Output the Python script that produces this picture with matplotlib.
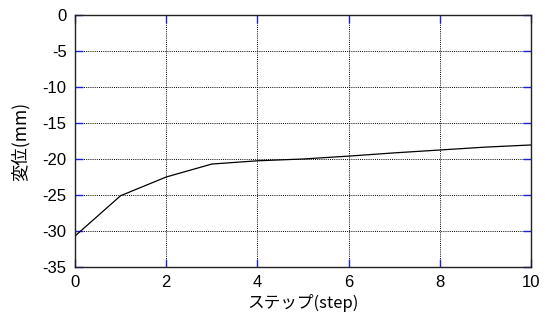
import matplotlib.pyplot as plt

step = [0, 1, 2, 3, 4, 5, 6, 7, 8, 9, 10]
disp = [-30.7, -25.1, -22.5, -20.7, -20.25, -20.0, -19.6, -19.15, -18.75, -18.35, -18.05]

xticks = [0, 2, 4, 6, 8, 10]
yticks = [0, -5, -10, -15, -20, -25, -30, -35]

plt.rcParams['font.family'] = ['Liberation Sans', 'Noto Sans CJK JP', 'DejaVu Sans']
plt.rcParams['axes.unicode_minus'] = False

fig = plt.figure(figsize=(5.48, 3.22), dpi=100)
ax = fig.add_axes([75 / 548, 1 - 267 / 322, (531 - 75) / 548, (267 - 15) / 322])

ax.plot(step, disp, color="black", linewidth=0.9)

ax.set_xlim(0, 10)
ax.set_ylim(-35, 0)
ax.set_xticks(xticks)
ax.set_yticks(yticks)
ax.grid(True, color="black", linestyle=(0, (1, 1.2)), linewidth=0.7)
ax.tick_params(direction="in", length=6, width=1, color="#2020e0",
               top=True, right=True, labelsize=12, pad=6)
for s in ax.spines.values():
    s.set_linewidth(1)
    s.set_color("#222222")

ax.set_xlabel("ステップ(step)", fontsize=12, labelpad=3,
              family=['Noto Sans CJK JP', 'Liberation Sans'])
ax.set_ylabel("変位(mm)", fontsize=12.5, labelpad=9,
              family=['Noto Sans CJK JP', 'Liberation Sans'])

fig.savefig("out.png", dpi=100)
plt.close(fig)
